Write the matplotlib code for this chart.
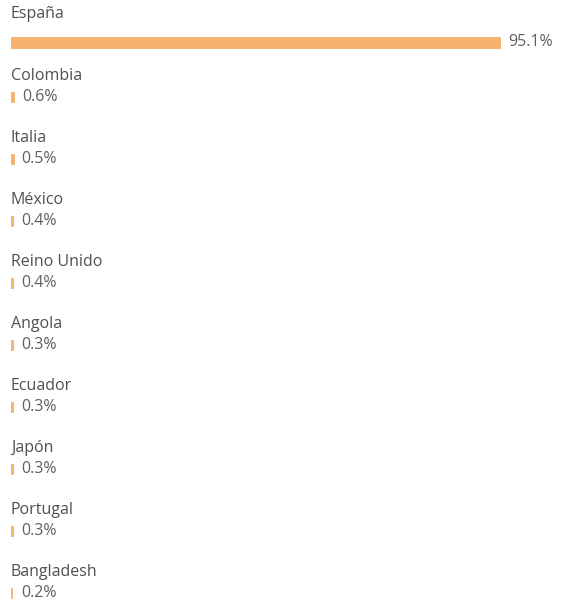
import numpy as np
import matplotlib.pyplot as plt

# Países y porcentaje de visitas
paises = ["España", "Colombia", "Italia", "México", "Reino Unido",
          "Angola", "Ecuador", "Japón", "Portugal", "Bangladesh"]
valores = [95.1, 0.6, 0.5, 0.4, 0.4, 0.3, 0.3, 0.3, 0.3, 0.2]

W, H = 561, 604
fig = plt.figure(figsize=(W / 100, H / 100), dpi=100)
ax = fig.add_axes([0, 0, 1, 1])

# escala: 11 px de margen, 95.1% -> 489 px
px_por_pct = 489 / 95.1
ax.set_xlim(-11 / px_por_pct, (W - 11) / px_por_pct)
# filas separadas 62 px, etiqueta de la primera a 15 px
ax.set_ylim((H - 15) / 62, -15 / 62)
ax.axis("off")

filas = np.arange(len(paises))
off = np.where(filas == 0, 27 / 62, 20 / 62)
alto = np.where(filas == 0, 11 / 62, 10 / 62)

ax.barh(filas + off, valores, height=alto, left=0, color="#F7B06E",
        edgecolor="#F7B06E", linewidth=0.6)

for i, (p, v) in enumerate(zip(paises, valores)):
    ax.text(0, i - 0.01, p, ha="left", va="center", fontsize=11.5,
            family="Open Sans", color="#505050")
    ax.annotate(f"{v}%", xy=(max(v, 0.5), i + off[i]), xytext=(8, 0),
                textcoords="offset pixels", ha="left", va="center",
                fontsize=11.5, family="Open Sans", color="#606060")

fig.savefig("out.png", dpi=100)
